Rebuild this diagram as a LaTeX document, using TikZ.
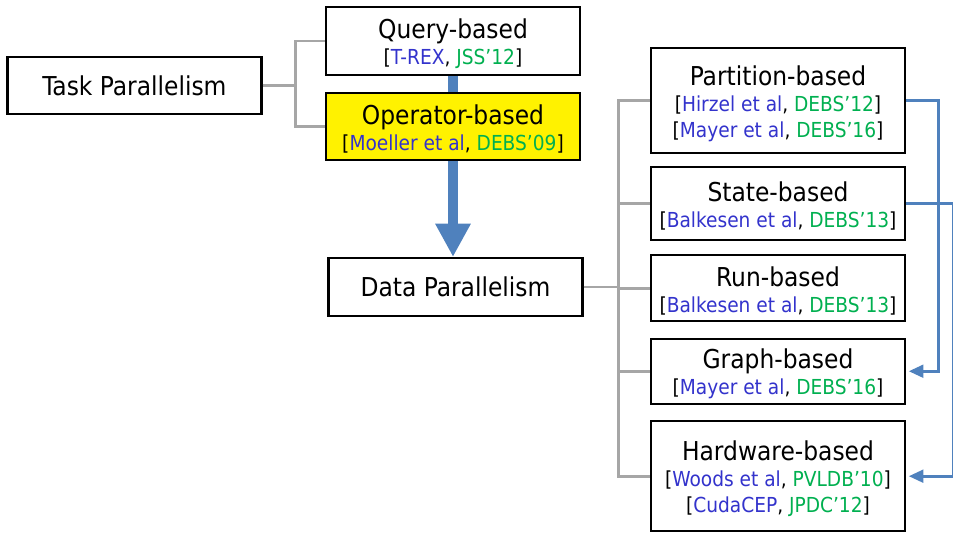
\documentclass[tikz,border=0pt]{standalone}
\usepackage{fontspec}
\setmainfont{DejaVu Sans Condensed}
\usetikzlibrary{positioning,arrows.meta,backgrounds}
\definecolor{authblue}{RGB}{51,51,204}
\definecolor{venuegreen}{RGB}{0,176,80}
\definecolor{linkblue}{RGB}{79,129,189}
\definecolor{treegray}{RGB}{166,166,166}
\newcommand{\titlefont}{\fontsize{19.5}{26}\selectfont}
\newcommand{\reffont}{\fontsize{15.5}{19.5}\selectfont}
\newcommand{\ttl}[1]{{\titlefont\rule{0pt}{19pt}#1}}
\newcommand{\pub}[2]{[{\color{authblue}#1}, {\color{venuegreen}#2}]}
\tikzset{
  box/.style={draw, line width=1.6pt, fill=white, minimum width=190.5pt, align=center, inner sep=2pt, font=\reffont},
  tree/.style={treegray, line width=2.2pt},
  link/.style={linkblue, line width=2.2pt, -{Triangle[length=11pt,width=9.5pt]}, shorten >=2pt},
}
\begin{document}
\begin{tikzpicture}[x=0.75pt, y=-0.75pt]
\useasboundingbox (0,0) rectangle (953,534);
% left part
\node (task) [box, minimum height=42.75pt, font=\titlefont] at (134.5,85.5) {Task Parallelism};
\node (query) [box, minimum height=51pt] at (453,41) {\ttl{Query-based}\\ \pub{T-REX}{JSS'12}};
\node (oper) [box, fill=yellow, minimum height=50.25pt] at (453,126.5) {\ttl{Operator-based}\\ \pub{Moeller et al}{DEBS'09}};
\node (data) [box, minimum height=43.5pt, font=\titlefont] at (455.5,287) {Data Parallelism};
% right column
\node (part) [box, minimum height=78.75pt] at (778,100.5) {\ttl{Partition-based}\\ \pub{Hirzel et al}{DEBS'12}\\ \pub{Mayer et al}{DEBS'16}};
\node (state) [box, minimum height=54.75pt, below=9pt of part] {\ttl{State-based}\\ \pub{Balkesen et al}{DEBS'13}};
\node (run) [box, minimum height=49.5pt, below=9.75pt of state] {\ttl{Run-based}\\ \pub{Balkesen et al}{DEBS'13}};
\node (graph) [box, minimum height=48.75pt, below=11.5pt of run] {\ttl{Graph-based}\\ \pub{Mayer et al}{DEBS'16}};
\node (hard) [box, minimum height=82.5pt, below=11.5pt of graph] {\ttl{Hardware-based}\\ \pub{Woods et al}{PVLDB'10}\\ \pub{CudaCEP}{JPDC'12}};
% big arrow behind the boxes
\begin{scope}[on background layer]
  \draw[linkblue, line width=7.5pt, -{Triangle[length=25pt,width=25pt]}] (query.south) -- (query.south |- data.north);
\end{scope}
% gray tree
\draw[tree] (task.east) -- +(33,0) coordinate (tj);
\draw[tree] (tj) |- (query.west);
\draw[tree] (tj) |- (oper.west);
\draw[tree] (data.east) -- +(35,0) coordinate (dj);
\foreach \n in {part,state,run,graph,hard}
  \draw[tree] (dj) |- (\n.west);
% blue links
\draw[link] (part.east) -- +(32,0) |- (graph.east);
\draw[link] (state.east) -- +(47,0) |- (hard.east);
\end{tikzpicture}
\end{document}
